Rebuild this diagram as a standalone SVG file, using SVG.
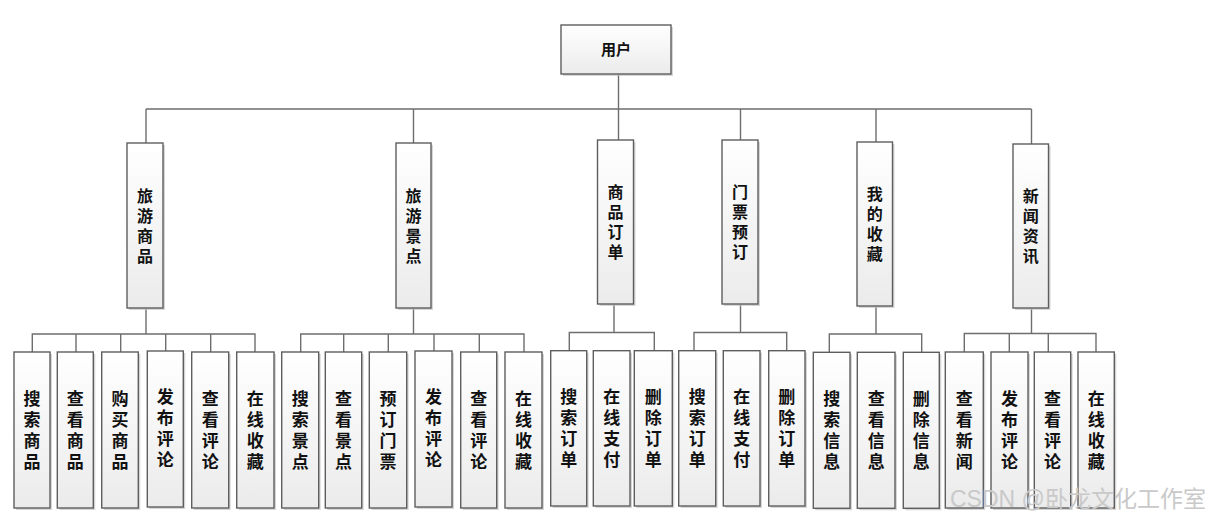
<svg xmlns="http://www.w3.org/2000/svg" width="1210" height="520" viewBox="0 0 1210 520">
<defs>
<linearGradient id="g" x1="0" y1="0" x2="0" y2="1">
<stop offset="0" stop-color="#ffffff"/>
<stop offset="1" stop-color="#ebebeb"/>
</linearGradient>
</defs>
<style>
.sh{fill:#c4c4c4;opacity:0.7}
.bx{fill:url(#g);stroke:#5e5e5e;stroke-width:1.4}
.t{font-family:"Noto Sans CJK SC","Liberation Sans",sans-serif;font-weight:bold;fill:#111;text-anchor:middle}
.v{writing-mode:vertical-rl;letter-spacing:4px}
.t2{font-size:16px}
.t3{font-size:17px}
.ln{stroke:#6e6e6e;stroke-width:1.4;fill:none}
.wm{font-family:"Liberation Sans","Noto Sans CJK SC",sans-serif;font-size:23px;fill:#c9c9c9}
</style>
<rect width="1210" height="520" fill="#ffffff"/>

<g id="connectors">
<path class="ln" d="M618.5 74V109M146 109H1031.5M146 109V143M413.5 109V143M618.5 109V140M740.5 109V140M876 109V142M1031.5 109V144"/>
<path class="ln" d="M146 308V334M32.3 352V334H255V352M76 334V352M120.7 334V352M165.7 334V351M210.7 334V352"/>
<path class="ln" d="M413.5 308V334M300.7 352V334H524V352M343.7 334V352M388.3 334V352M434 334V351M479.3 334V352"/>
<path class="ln" d="M614 304V332.5M569.3 350.7V332.5H654.3V350.7"/>
<path class="ln" d="M740.5 304V332.5M694 350.7V332.5H786.7V350.7"/>
<path class="ln" d="M876 306V334M829.3 352.3V334H921.7V352.3"/>
<path class="ln" d="M1031.5 308V333.5M964.3 352V333.5H1096V352M1009.3 333.5V352M1048.3 333.5V352"/>
</g>

<g id="root">
<rect class="sh" x="563" y="27" width="110" height="49"/>
<rect class="bx" x="561" y="25" width="110" height="49"/>
<text class="t" x="616" y="55" font-size="15">用户</text>
</g>

<g id="n-lvsp">
<rect class="sh" x="129" y="145" width="36" height="165"/>
<rect class="bx" x="127" y="143" width="36" height="165"/>
<text class="t t2 v" x="145" y="227.5">旅游商品</text>
</g>
<g id="n-lvjd">
<rect class="sh" x="398" y="145" width="35" height="165"/>
<rect class="bx" x="396" y="143" width="35" height="165"/>
<text class="t t2 v" x="413.5" y="227.5">旅游景点</text>
</g>
<g id="n-spdd">
<rect class="sh" x="599.5" y="142" width="36" height="164"/>
<rect class="bx" x="597.5" y="140" width="36" height="164"/>
<text class="t t2 v" x="615.5" y="224">商品订单</text>
</g>
<g id="n-mpyd">
<rect class="sh" x="724" y="142" width="36" height="164"/>
<rect class="bx" x="722" y="140" width="36" height="164"/>
<text class="t t2 v" x="740" y="224">门票预订</text>
</g>
<g id="n-wdsc">
<rect class="sh" x="859" y="144" width="35.5" height="164"/>
<rect class="bx" x="857" y="142" width="35.5" height="164"/>
<text class="t t2 v" x="874.8" y="226">我的收藏</text>
</g>
<g id="n-xwzx">
<rect class="sh" x="1015" y="146" width="35.5" height="164"/>
<rect class="bx" x="1013" y="144" width="35.5" height="164"/>
<text class="t t2 v" x="1030.8" y="228">新闻资讯</text>
</g>

<g id="l1-1"><rect class="sh" x="16" y="354" width="36" height="156"/><rect class="bx" x="14" y="352" width="36" height="156"/>
<text class="t t3 v" x="32" y="432">搜索商品</text></g>
<g id="l1-2"><rect class="sh" x="59.3" y="354" width="36" height="156"/><rect class="bx" x="57.3" y="352" width="36" height="156"/>
<text class="t t3 v" x="75.3" y="432">查看商品</text></g>
<g id="l1-3"><rect class="sh" x="103.7" y="354" width="36.6" height="156"/><rect class="bx" x="101.7" y="352" width="36.6" height="156"/>
<text class="t t3 v" x="120" y="432">购买商品</text></g>
<g id="l1-4"><rect class="sh" x="149.3" y="353" width="36" height="156"/><rect class="bx" x="147.3" y="351" width="36" height="156"/>
<text class="t t3 v" x="165.3" y="430">发布评论</text></g>
<g id="l1-5"><rect class="sh" x="193.7" y="354" width="37" height="156"/><rect class="bx" x="191.7" y="352" width="37" height="156"/>
<text class="t t3 v" x="210.2" y="432">查看评论</text></g>
<g id="l1-6"><rect class="sh" x="238.7" y="354" width="37.3" height="156"/><rect class="bx" x="236.7" y="352" width="37.3" height="156"/>
<text class="t t3 v" x="255.3" y="432">在线收藏</text></g>

<g id="l2-1"><rect class="sh" x="283.7" y="354" width="37" height="156"/><rect class="bx" x="281.7" y="352" width="37" height="156"/>
<text class="t t3 v" x="300.2" y="432">搜索景点</text></g>
<g id="l2-2"><rect class="sh" x="327.3" y="354" width="36.4" height="156"/><rect class="bx" x="325.3" y="352" width="36.4" height="156"/>
<text class="t t3 v" x="343.5" y="432">查看景点</text></g>
<g id="l2-3"><rect class="sh" x="371.3" y="354" width="37.4" height="156"/><rect class="bx" x="369.3" y="352" width="37.4" height="156"/>
<text class="t t3 v" x="388" y="432">预订门票</text></g>
<g id="l2-4"><rect class="sh" x="417" y="353" width="37" height="156"/><rect class="bx" x="415" y="351" width="37" height="156"/>
<text class="t t3 v" x="433.5" y="430">发布评论</text></g>
<g id="l2-5"><rect class="sh" x="462.7" y="354" width="36" height="156"/><rect class="bx" x="460.7" y="352" width="36" height="156"/>
<text class="t t3 v" x="478.7" y="432">查看评论</text></g>
<g id="l2-6"><rect class="sh" x="507" y="354" width="37" height="156"/><rect class="bx" x="505" y="352" width="37" height="156"/>
<text class="t t3 v" x="523.5" y="432">在线收藏</text></g>

<g id="l3-1"><rect class="sh" x="552.7" y="352.7" width="36" height="155.3"/><rect class="bx" x="550.7" y="350.7" width="36" height="155.3"/>
<text class="t t3 v" x="568.7" y="430">搜索订单</text></g>
<g id="l3-2"><rect class="sh" x="595.3" y="352.7" width="36.7" height="155.3"/><rect class="bx" x="593.3" y="350.7" width="36.7" height="155.3"/>
<text class="t t3 v" x="611.7" y="430">在线支付</text></g>
<g id="l3-3"><rect class="sh" x="636.3" y="352.7" width="38" height="155.3"/><rect class="bx" x="634.3" y="350.7" width="38" height="155.3"/>
<text class="t t3 v" x="653.3" y="430">删除订单</text></g>

<g id="l4-1"><rect class="sh" x="680.7" y="352.7" width="37" height="155.3"/><rect class="bx" x="678.7" y="350.7" width="37" height="155.3"/>
<text class="t t3 v" x="697.2" y="430">搜索订单</text></g>
<g id="l4-2"><rect class="sh" x="725.3" y="352.7" width="36.7" height="155.3"/><rect class="bx" x="723.3" y="350.7" width="36.7" height="155.3"/>
<text class="t t3 v" x="741.7" y="430">在线支付</text></g>
<g id="l4-3"><rect class="sh" x="770.7" y="352.7" width="36.3" height="155.3"/><rect class="bx" x="768.7" y="350.7" width="36.3" height="155.3"/>
<text class="t t3 v" x="786.8" y="430">删除订单</text></g>

<g id="l5-1"><rect class="sh" x="815.3" y="354.3" width="36.7" height="156"/><rect class="bx" x="813.3" y="352.3" width="36.7" height="156"/>
<text class="t t3 v" x="831.7" y="432">搜索信息</text></g>
<g id="l5-2"><rect class="sh" x="859.3" y="354.3" width="37.7" height="156"/><rect class="bx" x="857.3" y="352.3" width="37.7" height="156"/>
<text class="t t3 v" x="876.2" y="432">查看信息</text></g>
<g id="l5-3"><rect class="sh" x="905.3" y="354.3" width="36" height="156"/><rect class="bx" x="903.3" y="352.3" width="36" height="156"/>
<text class="t t3 v" x="921.3" y="432">删除信息</text></g>

<g id="l6-1"><rect class="sh" x="947.3" y="354" width="38" height="156"/><rect class="bx" x="945.3" y="352" width="38" height="156"/>
<text class="t t3 v" x="964.3" y="432">查看新闻</text></g>
<g id="l6-2"><rect class="sh" x="993" y="354" width="37" height="156"/><rect class="bx" x="991" y="352" width="37" height="156"/>
<text class="t t3 v" x="1009.5" y="432">发布评论</text></g>
<g id="l6-3"><rect class="sh" x="1036.3" y="354" width="36.4" height="156"/><rect class="bx" x="1034.3" y="352" width="36.4" height="156"/>
<text class="t t3 v" x="1052.5" y="432">查看评论</text></g>
<g id="l6-4"><rect class="sh" x="1080" y="354" width="36.3" height="156"/><rect class="bx" x="1078" y="352" width="36.3" height="156"/>
<text class="t t3 v" x="1096.2" y="432">在线收藏</text></g>

<text class="wm" x="950" y="507">CSDN @卧龙文化工作室</text>
</svg>
